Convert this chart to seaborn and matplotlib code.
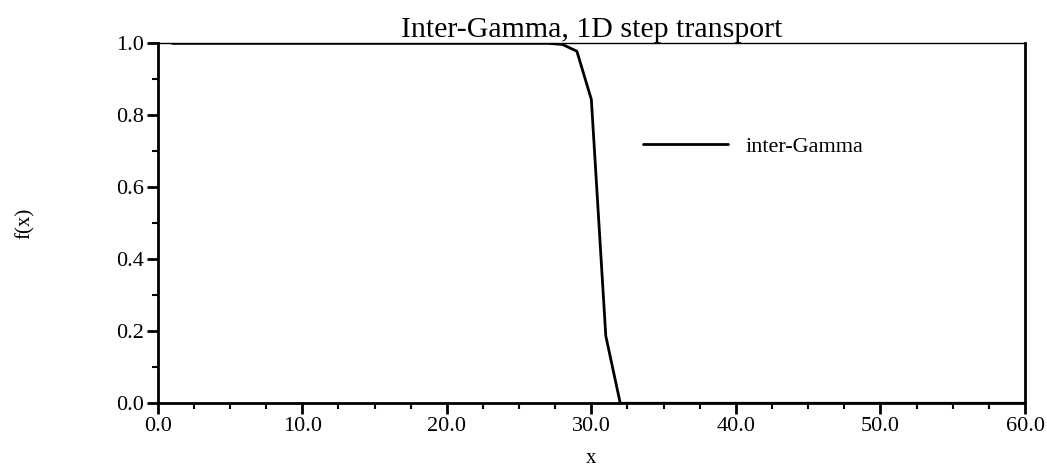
import matplotlib.pyplot as plt
import pandas as pd
import seaborn as sns
from matplotlib.ticker import MultipleLocator

# data: step profile after transport
x_vals = list(range(1, 61))
f_vals = ([1.0] * 27
          + [0.997, 0.978, 0.844, 0.187]
          + [0.0] * 29)

df = pd.DataFrame({"x": x_vals, "f(x)": f_vals, "series": "inter-Gamma"})

sns.set_theme(style="ticks")
plt.rcParams['font.family'] = ['Liberation Serif', 'DejaVu Serif']
plt.rcParams['text.color'] = 'black'
plt.rcParams['axes.labelcolor'] = 'black'

fig = plt.figure(figsize=(10.47, 4.66), dpi=100)
ax = fig.add_axes([0.1506, 0.1346, 0.8284, 0.7724])

sns.lineplot(data=df, x="x", y="f(x)", hue="series", palette=["black"],
             linewidth=2, ax=ax, legend=True)

ax.set_xlim(0, 60)
ax.set_ylim(0, 1)
ax.xaxis.set_major_locator(MultipleLocator(10))
ax.xaxis.set_minor_locator(MultipleLocator(2.5))
ax.yaxis.set_major_locator(MultipleLocator(0.2))
ax.yaxis.set_minor_locator(MultipleLocator(0.1))
ax.xaxis.set_major_formatter(lambda v, p: f"{v:.1f}")
ax.yaxis.set_major_formatter(lambda v, p: f"{v:.1f}")

ax.tick_params(which="major", direction="out", length=8, width=2,
               labelsize=16, color="black", labelcolor="black", pad=2)
ax.tick_params(which="minor", direction="out", length=4, width=1.5,
               color="black")

for side in ["left", "bottom", "right"]:
    ax.spines[side].set_linewidth(2)
    ax.spines[side].set_color("black")
ax.spines["top"].set_linewidth(1)
ax.spines["top"].set_color("black")

ax.set_title("Inter-Gamma, 1D step transport", fontsize=21.5, pad=2)
ax.set_xlabel("x", fontsize=15, labelpad=9)
ax.set_ylabel("f(x)", fontsize=15, labelpad=58)

leg = ax.legend(loc="center left", bbox_to_anchor=(0.537, 0.713),
                frameon=False, fontsize=16, handlelength=3.8, handletextpad=0.8)
for line in leg.get_lines():
    line.set_linewidth(2)

fig.savefig("out.png", dpi=100)
